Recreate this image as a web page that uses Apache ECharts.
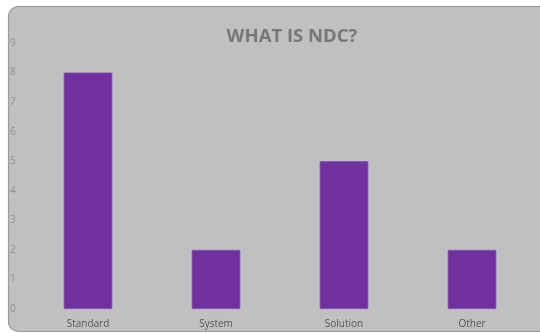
<!DOCTYPE html>
<html><head><meta charset="utf-8">
<script src="https://cdn.jsdelivr.net/npm/echarts@6/dist/echarts.min.js"></script>
<style>html,body{margin:0;padding:0;background:#fff}#c{width:540px;height:333px}</style>
</head><body><div id="c"></div>
<script>
var categories = ['Standard', 'System', 'Solution', 'Other'];
var values = [8, 2, 5, 2];
var yTicks = [0, 1, 2, 3, 4, 5, 6, 7, 8, 9];

var chart = echarts.init(document.getElementById('c'));
chart.setOption({
  animation: false,
  backgroundColor: '#fff',
  graphic: [{
    type: 'rect', z: -10, silent: true,
    shape: { x: 8.5, y: 6.5, width: 560, height: 325, r: 10 },
    style: { fill: '#c0c0c0', stroke: '#9a9a9a', lineWidth: 1.2 }
  }],
  title: {
    text: 'WHAT IS NDC?',
    left: 287, top: 22, textAlign: 'center',
    textStyle: { fontFamily: 'Open Sans', fontWeight: 'bold', fontSize: 18.5, color: '#777777' }
  },
  grid: { left: 24, right: 4, top: 43, bottom: 24 },
  xAxis: {
    type: 'category', data: categories,
    axisLine: { show: false }, axisTick: { show: false },
    axisLabel: { color: '#555', fontSize: 10, fontFamily: 'Open Sans', margin: 10 }
  },
  yAxis: {
    type: 'value', min: yTicks[0], max: yTicks[yTicks.length - 1], interval: 1,
    splitLine: { show: false }, axisLine: { show: false }, axisTick: { show: false },
    axisLabel: { color: '#8f8f8f', fontSize: 10, fontFamily: 'Open Sans', align: 'left', margin: 14 }
  },
  series: [{
    type: 'bar', data: values, barWidth: '38%',
    itemStyle: { color: '#7030a0', borderColor: '#8a4cb8', borderWidth: 0.8 }
  }]
});
</script></body></html>
